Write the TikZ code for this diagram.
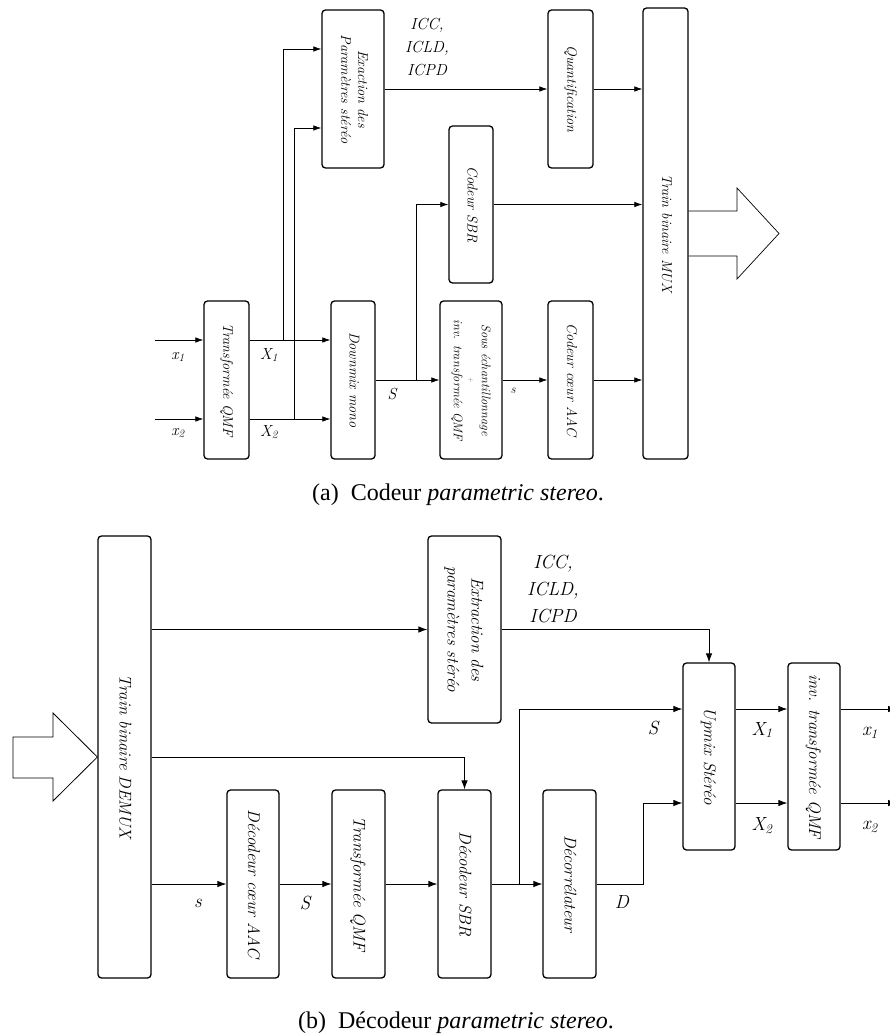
\documentclass[tikz,border=0pt]{standalone}
\usepackage{fontspec}
\newfontfamily\capfont{Liberation Serif}
\usetikzlibrary{arrows.meta}
\newcommand{\encfont}{\fontsize{14.3}{17}\selectfont\itshape}
\newcommand{\encsmall}{\fontsize{12.5}{16}\selectfont\itshape}
\newcommand{\enclabfont}{\fontsize{16}{19}\selectfont\itshape}
\newcommand{\enclab}{\fontsize{16}{23}\selectfont\itshape}
\newcommand{\decfont}{\fontsize{17}{24}\selectfont\itshape}
\newcommand{\declab}{\fontsize{19}{27}\selectfont\itshape}
\newcommand{\vtext}[1]{\rotatebox{-90}{\begin{tabular}{@{}c@{}}#1\end{tabular}}}
\newcommand{\sub}[2]{\textit{#1}\textsubscript{\textit{#2}}}
\begin{document}
\begin{tikzpicture}[x=1pt,y=-1pt,
  box/.style={draw, line width=1.3pt, rounded corners=3.5pt, inner sep=0pt},
  ebox/.style={box, font=\encfont},
  dbox/.style={box, font=\decfont},
  earr/.style={line width=0.7pt, -{Latex[length=8pt,width=5.5pt]}},
  darr/.style={line width=0.8pt, -{Latex[length=9pt,width=6.5pt]}},
  eline/.style={line width=0.7pt},
  dline/.style={line width=0.8pt},
  elab/.style={inner sep=0pt, font=\enclabfont},
  dlab/.style={inner sep=0pt, font=\declab},
  captext/.style={inner sep=0pt, font=\capfont\fontsize{24}{28}\selectfont}]
\useasboundingbox (0,0) rectangle (890,1035);

% ---------------- Encoder ----------------
\node[ebox, minimum width=45pt, minimum height=158pt] (qmfA) at (226.5,380) {\vtext{Transformée QMF}};
\node[ebox, minimum width=44pt, minimum height=158pt] (dmx) at (353,380) {\vtext{Downmix mono}};
\node[ebox, minimum width=62pt, minimum height=158pt] (exa) at (353,89) {\vtext{Exaction des\\Paramètres stéréo}};
\node[ebox, minimum width=45pt, minimum height=158pt] (quant) at (570.5,89) {\vtext{Quantification}};
\node[ebox, minimum width=45pt, minimum height=451pt] (mux) at (665.5,233.5) {\vtext{Train binaire MUX}};
\node[ebox, minimum width=44pt, minimum height=157pt] (sbr) at (471,204.5) {\vtext{Codeur SBR}};
\node[box, font=\encsmall, minimum width=62pt, minimum height=158pt] (sous) at (471,380)
  {\vtext{Sous échantillonnage\\[-3pt]{\color{gray}\fontsize{7}{8}\selectfont +}\\[-1pt]inv. transformée QMF}};
\node[ebox, minimum width=45pt, minimum height=158pt] (aac) at (570.5,380) {\vtext{Codeur cœur AAC}};

\coordinate (in1) at (155,340);
\coordinate (in2) at (155,419);
\coordinate (b1) at (283,340);
\coordinate (b2) at (294,419);
\coordinate (bs) at (416,380);

\draw[earr] (in1) -- (in1 -| qmfA.west);
\draw[earr] (in2) -- (in2 -| qmfA.west);
\draw[earr] (in1 -| qmfA.east) -- (in1 -| dmx.west);
\draw[earr] (in2 -| qmfA.east) -- (in2 -| dmx.west);
\draw[earr] (b1) |- (exa.west |- 0,49);
\draw[earr] (b2) |- (exa.west |- 0,128);
\draw[earr] (exa.east) -- (quant.west);
\draw[earr] (quant.east) -- (quant.east -| mux.west);
\draw[earr] (dmx.east) -- (sous.west);
\draw[earr] (bs) |- (sbr.west);
\draw[earr] (sbr.east) -- (sbr.east -| mux.west);
\draw[earr] (sous.east) -- (aac.west);
\draw[earr] (aac.east) -- (aac.east -| mux.west);
\draw[eline] (mux.east |- 0,211) -- (737,211) -- (737,188) -- (779,233.5) -- (737,279) -- (737,256) -- (mux.east |- 0,256);

\node[elab] (lx1) at (178,357) {\sub{x}{1}};
\node[elab] (lx2) at (178,433) {\sub{x}{2}};
\node[elab] (lX1) at (269,355) {\sub{X}{1}};
\node[elab] (lX2) at (269,432) {\sub{X}{2}};
\node[elab] (lS) at (392,394) {\textit{S}};
\node[elab, font=\encsmall] (ls) at (513,391) {\textit{s}};
\node[elab, font=\enclab, align=center] (lpar) at (427,47) {ICC,\\ICLD,\\ICPD};

\node[captext] (capa) at (458,495) {(a)\hspace{0.5em}Codeur \textit{parametric stereo}.};

% ---------------- Decoder ----------------
\node[dbox, minimum width=53pt, minimum height=442pt] (demux) at (124.5,757) {\vtext{Train binaire DEMUX}};
\node[dbox, minimum width=73pt, minimum height=187pt] (extr) at (464.5,629.5) {\vtext{Extraction des\\paramètres stéréo}};
\node[dbox, minimum width=52pt, minimum height=187pt] (upmix) at (709,756.5) {\vtext{Upmix Stéréo}};
\node[dbox, minimum width=52pt, minimum height=187pt] (inv) at (814,756.5) {\vtext{inv. transformée QMF}};
\node[dbox, minimum width=52pt, minimum height=188pt] (daac) at (253,884) {\vtext{Décodeur cœur AAC}};
\node[dbox, minimum width=53pt, minimum height=188pt] (dqmf) at (358.5,884) {\vtext{Transformée QMF}};
\node[dbox, minimum width=53pt, minimum height=188pt] (dsbr) at (464.5,884) {\vtext{Décodeur SBR}};
\node[dbox, minimum width=53pt, minimum height=188pt] (decor) at (569.5,884) {\vtext{Décorrélateur}};

\coordinate (bS) at (519,884);
\coordinate (dD) at (643,884);
\coordinate (o1) at (897,709);
\coordinate (o2) at (897,803);

\draw[dline] (13,737) -- (53,737) -- (53,713) -- (demux.west) -- (53,801) -- (53,778) -- (13,778) -- cycle;
\draw[darr] (demux.east |- extr.west) -- (extr.west);
\draw[darr] (extr.east) -| (upmix.north);
\draw[darr] (demux.east) -| (dsbr.north);
\draw[darr] (demux.east |- daac.west) -- (daac.west);
\draw[darr] (daac.east) -- (dqmf.west);
\draw[darr] (dqmf.east) -- (dsbr.west);
\draw[darr] (dsbr.east) -- (decor.west);
\draw[darr] (bS) |- (upmix.west |- 0,709);
\draw[darr] (decor.east) -- (dD) |- (upmix.west |- 0,803);
\draw[darr] (upmix.east |- 0,709) -- (inv.west |- 0,709);
\draw[darr] (upmix.east |- 0,803) -- (inv.west |- 0,803);
\draw[darr] (inv.east |- o1) -- (o1);
\draw[darr] (inv.east |- o2) -- (o2);

\node[dlab, align=center] (dpar) at (553,589) {ICC,\\ICLD,\\ICPD};
\node[dlab] (dlS) at (653,728) {\textit{S}};
\node[dlab] (dlX1) at (762,730) {\sub{X}{1}};
\node[dlab] (dlX2) at (762,826) {\sub{X}{2}};
\node[dlab] (dlx1) at (870,733) {\sub{x}{1}};
\node[dlab] (dlx2) at (870,827) {\sub{x}{2}};
\node[dlab] (dlD) at (622,902) {\textit{D}};
\node[dlab] (dls) at (198,903) {\textit{s}};
\node[dlab] (dlS2) at (305,903) {\textit{S}};

\node[captext] (capb) at (456,1023) {(b)\hspace{0.5em}Décodeur \textit{parametric stereo}.};
\end{tikzpicture}
\end{document}
